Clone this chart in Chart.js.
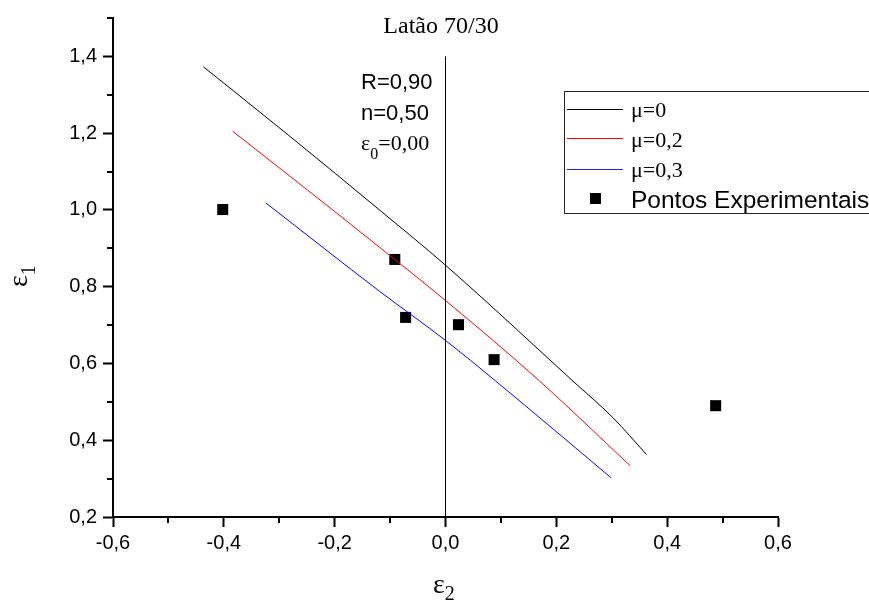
<!DOCTYPE html>
<html>
<head>
<meta charset="utf-8">
<script src="https://cdn.jsdelivr.net/npm/chart.js@4/dist/chart.umd.min.js"></script>
<style>
  html, body { margin: 0; padding: 0; background: #fff; }
  #wrap { width: 869px; height: 601px; }
</style>
</head>
<body>
<div id="wrap"><canvas id="c" width="869" height="601"></canvas></div>
<script>
// ---- data ----
const vLineX = [0, 0];
const vLineY = [0.2, 1.4];

const mu0X  = [-0.437, -0.281, -0.115, 0.000, 0.230, 0.302, 0.3625];
const mu0Y  = [ 1.373,  1.192,  0.995, 0.856, 0.554, 0.459, 0.363];

const mu02X = [-0.384, -0.200, -0.0915, 0.000, 0.170, 0.3336];
const mu02Y = [ 1.205,  0.996,  0.871,  0.764, 0.554, 0.333];

const mu03X = [-0.324, -0.118, 0.000, 0.0907, 0.299];
const mu03Y = [ 1.018,  0.787, 0.660, 0.554,  0.302];

const expX  = [-0.402, -0.0915, -0.072, 0.0234, 0.0877, 0.4875];
const expY  = [ 1.001,  0.871,   0.720,  0.701,  0.610,  0.490];

const seriesNames = ['\u03bc=0', '\u03bc=0,2', '\u03bc=0,3', 'Pontos Experimentais'];
const titleText = 'Lat\u00e3o 70/30';
const paramLines = ['R=0,90', 'n=0,50'];
const eps0Text = ['\u03b5', '0', '=0,00'];

const xMajorTicks = [-0.6, -0.4, -0.2, 0.0, 0.2, 0.4, 0.6];
const yMajorTicks = [0.2, 0.4, 0.6, 0.8, 1.0, 1.2, 1.4];
const xMinorTicks = [-0.5, -0.3, -0.1, 0.1, 0.3, 0.5];
const yMinorTicks = [0.3, 0.5, 0.7, 0.9, 1.1, 1.3, 1.5];

const zip = (xs, ys) => xs.map((x, i) => ({ x: x, y: ys[i] }));
const fmt = v => (Math.abs(v) < 1e-9 ? 0 : v).toFixed(1).replace('.', ',');

const SANS = "'Liberation Sans', Arial, sans-serif";
const SERIF = "'Liberation Serif', 'Times New Roman', serif";

// ---- custom drawing plugin (minor ticks, texts, legend) ----
const extras = {
  id: 'extras',
  afterDraw(chart) {
    const ctx = chart.ctx;
    const xs = chart.scales.x, ys = chart.scales.y;
    const ca = chart.chartArea;
    ctx.save();
    // minor ticks
    ctx.strokeStyle = '#000';
    ctx.lineWidth = 2;
    ctx.beginPath();
    xMinorTicks.forEach(v => {
      const px = Math.round(xs.getPixelForValue(v));
      ctx.moveTo(px, ca.bottom); ctx.lineTo(px, ca.bottom + 6);
    });
    yMinorTicks.forEach(v => {
      const py = Math.round(ys.getPixelForValue(v));
      ctx.moveTo(ca.left, py); ctx.lineTo(ca.left - 6, py);
    });
    ctx.stroke();

    ctx.fillStyle = '#000';
    ctx.textBaseline = 'alphabetic';

    // title
    ctx.font = '24px ' + SERIF;
    ctx.textAlign = 'center';
    ctx.fillText(titleText, 441, 33);

    // parameters
    ctx.textAlign = 'left';
    ctx.font = '22px ' + SANS;
    ctx.fillText(paramLines[0], 361, 89);
    ctx.fillText(paramLines[1], 361, 120);
    ctx.font = '22px ' + SERIF;
    let x0 = 361;
    ctx.fillText(eps0Text[0], x0, 150);
    x0 += ctx.measureText(eps0Text[0]).width;
    ctx.font = '16px ' + SERIF;
    ctx.fillText(eps0Text[1], x0, 159);
    x0 += ctx.measureText(eps0Text[1]).width;
    ctx.font = '22px ' + SERIF;
    ctx.fillText(eps0Text[2], x0, 150);

    // legend box (right side runs off the canvas as in the reference)
    ctx.strokeStyle = '#222';
    ctx.lineWidth = 1;
    ctx.beginPath();
    ctx.moveTo(880, 91.5); ctx.lineTo(564.5, 91.5); ctx.lineTo(564.5, 213.5); ctx.lineTo(880, 213.5);
    ctx.stroke();
    const rowsY = [109.5, 138.5, 169.5];
    const cols = ['#000000', '#ff0000', '#2020ff'];
    const base = [117, 147, 177];
    for (let i = 0; i < 3; i++) {
      ctx.strokeStyle = cols[i];
      ctx.lineWidth = 1;
      ctx.beginPath();
      ctx.moveTo(567, rowsY[i]); ctx.lineTo(623, rowsY[i]);
      ctx.stroke();
      ctx.font = '22px ' + SERIF;
      ctx.fillText(seriesNames[i], 631, base[i]);
    }
    ctx.fillRect(590, 193, 11, 11);
    ctx.font = '24.5px ' + SANS;
    ctx.fillText(seriesNames[3], 631, 208);

    // x axis title
    ctx.font = '28px ' + SERIF;
    ctx.fillText('\u03b5', 433, 593);
    let xx = 433 + ctx.measureText('\u03b5').width;
    ctx.font = '20px ' + SERIF;
    ctx.fillText('2', xx, 600);

    // y axis title (rotated)
    ctx.translate(27, 287);
    ctx.rotate(-Math.PI / 2);
    ctx.font = '28px ' + SERIF;
    ctx.fillText('\u03b5', 0, 0);
    let yy = ctx.measureText('\u03b5').width;
    ctx.font = '20px ' + SERIF;
    ctx.fillText('1', yy, 8);
    ctx.restore();
  }
};

const lineDs = (label, xsArr, ysArr, color, smooth) => ({
  label: label,
  data: zip(xsArr, ysArr),
  showLine: true,
  borderColor: color,
  backgroundColor: color,
  borderWidth: 1,
  pointRadius: 0,
  pointHoverRadius: 0,
  cubicInterpolationMode: smooth ? 'monotone' : 'default',
  tension: 0,
  fill: false
});

new Chart(document.getElementById('c'), {
  type: 'scatter',
  data: {
    datasets: [
      lineDs('zero', vLineX, vLineY, '#000000', false),
      lineDs(seriesNames[0], mu0X, mu0Y, '#000000', true),
      lineDs(seriesNames[1], mu02X, mu02Y, '#ff0000', true),
      lineDs(seriesNames[2], mu03X, mu03Y, '#0000ff', true),
      {
        label: seriesNames[3],
        data: zip(expX, expY),
        showLine: false,
        pointStyle: 'rect',
        pointRadius: 7.8,
        pointBorderWidth: 0,
        borderWidth: 0,
        backgroundColor: '#000',
        borderColor: '#000'
      }
    ]
  },
  options: {
    responsive: false,
    devicePixelRatio: 1,
    animation: false,
    events: [],
    layout: { padding: { top: 14, right: 91, left: 0, bottom: 0 } },
    plugins: { legend: { display: false }, tooltip: { enabled: false }, title: { display: false } },
    scales: {
      x: {
        type: 'linear',
        min: -0.6, max: 0.6,
        afterBuildTicks: s => { s.ticks = xMajorTicks.map(v => ({ value: v })); },
        afterFit: s => { s.height = 84; },
        ticks: {
          callback: v => fmt(v),
          font: { family: SANS, size: 20 },
          color: '#000',
          padding: 4,
          maxRotation: 0,
          autoSkip: false
        },
        grid: { drawOnChartArea: false, drawTicks: true, tickLength: 10, tickColor: '#000', tickWidth: 2 },
        border: { display: true, color: '#000', width: 2 }
      },
      y: {
        type: 'linear',
        min: 0.2, max: 1.5,
        afterBuildTicks: s => { s.ticks = yMajorTicks.map(v => ({ value: v })); },
        afterFit: s => { s.width = 113; },
        ticks: {
          callback: v => fmt(v),
          font: { family: SANS, size: 20 },
          color: '#000',
          padding: 6,
          autoSkip: false
        },
        grid: { drawOnChartArea: false, drawTicks: true, tickLength: 10, tickColor: '#000', tickWidth: 2 },
        border: { display: true, color: '#000', width: 2 }
      }
    }
  },
  plugins: [extras]
});
</script>
</body>
</html>
